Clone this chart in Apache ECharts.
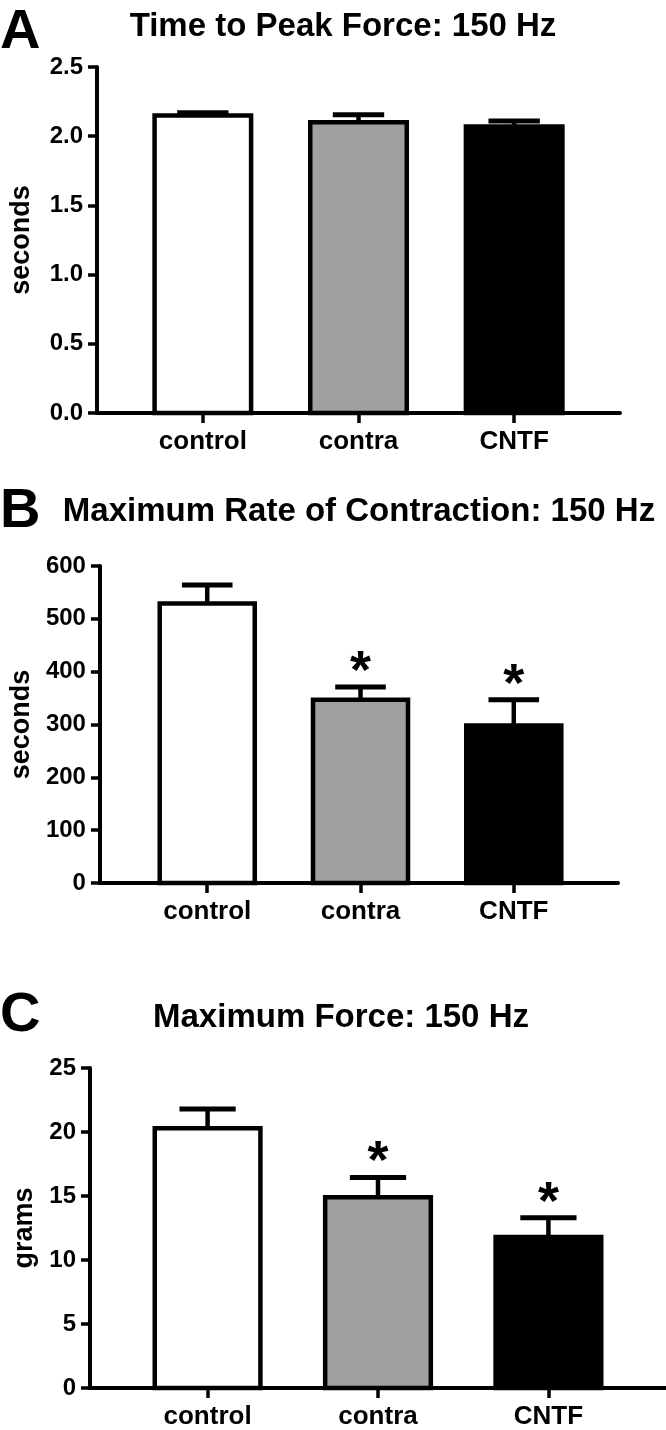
<!DOCTYPE html>
<html>
<head>
<meta charset="utf-8">
<script src="https://cdn.jsdelivr.net/npm/echarts@6/dist/echarts.min.js"></script>
<style>
html,body{margin:0;padding:0;background:#fff;}
#c{width:666px;height:1430px;}
</style>
</head>
<body>
<div id="c"></div>
<script>
// ---- data ----
const categories = ['control', 'contra', 'CNTF'];

const titleA = 'Time to Peak Force: 150 Hz';
const meanA = [2.15, 2.10, 2.07];
const errA = [2.17, 2.155, 2.11];
const sigA = [false, false, false];
const ticksA = { min: 0, max: 2.5, interval: 0.5, decimals: 1 };
const yNameA = 'seconds';

const titleB = 'Maximum Rate of Contraction: 150 Hz';
const meanB = [529, 347, 298];
const errB = [564, 371, 347];
const sigB = [false, true, true];
const ticksB = { min: 0, max: 600, interval: 100, decimals: 0 };
const yNameB = 'seconds';

const titleC = 'Maximum Force: 150 Hz';
const meanC = [20.3, 14.9, 11.8];
const errC = [21.8, 16.45, 13.3];
const sigC = [false, true, true];
const ticksC = { min: 0, max: 25, interval: 5, decimals: 0 };
const yNameC = 'grams';

// ---- styles ----
const FONT = '"Liberation Sans", Arial, Helvetica, sans-serif';
const barFill = ['#ffffff', '#a0a0a0', '#000000'];

const panels = [
  { title: titleA, letter: 'A', mean: meanA, err: errA, sig: sigA, ticks: ticksA, yName: yNameA,
    grid: { left: 97, top: 67, width: 523, height: 346 }, xmin: -0.68, xmax: 2.68,
    titleX: 343, titleY: 27, letterY: 33, nameGap: 62 },
  { title: titleB, letter: 'B', mean: meanB, err: errB, sig: sigB, ticks: ticksB, yName: yNameB,
    grid: { left: 94, top: 566, width: 524, height: 317 }, xmin: -0.70, xmax: 2.68,
    titleX: 359, titleY: 512, letterY: 512, nameGap: 57 },
  { title: titleC, letter: 'C', mean: meanC, err: errC, sig: sigC, ticks: ticksC, yName: yNameC,
    grid: { left: 90, top: 1068, width: 576, height: 322 }, xmin: -0.69, xmax: 2.69,
    titleX: 341, titleY: 1018, letterY: 1016, nameGap: 47 }
];

const grids = [], xAxes = [], yAxes = [], series = [], graphics = [];

panels.forEach((p, i) => {
  grids.push(Object.assign({ containLabel: false }, p.grid));
  xAxes.push({
    type: 'value', gridIndex: i, min: p.xmin, max: p.xmax,
    axisLine: { show: true, onZero: false, lineStyle: { color: '#000', width: 4 } },
    axisTick: { show: true, customValues: [0, 1, 2], length: 10, lineStyle: { color: '#000', width: 3.5 } },
    axisLabel: { show: true, customValues: [0, 1, 2], margin: 16,
      formatter: v => categories[Math.round(v)] || '',
      color: '#000', fontFamily: FONT, fontWeight: 'bold', fontSize: 26 },
    splitLine: { show: false }
  });
  yAxes.push({
    type: 'value', gridIndex: i, min: p.ticks.min, max: p.ticks.max, interval: p.ticks.interval,
    name: p.yName, nameLocation: 'middle', nameGap: p.nameGap,
    nameTextStyle: { color: '#000', fontFamily: FONT, fontWeight: 'bold', fontSize: 27 },
    axisLine: { show: true, onZero: false, lineStyle: { color: '#000', width: 4 } },
    axisTick: { show: true, length: 9, lineStyle: { color: '#000', width: 3.5 } },
    axisLabel: { margin: 14, color: '#000', fontFamily: FONT, fontWeight: 'bold', fontSize: 24,
      formatter: v => v.toFixed(p.ticks.decimals) },
    splitLine: { show: false }
  });
  const data = p.mean.map((m, k) => [k, m, p.err[k], p.sig[k] ? 1 : 0]);
  series.push({
    type: 'custom', xAxisIndex: i, yAxisIndex: i, data: data, clip: false,
    renderItem: (params, api) => {
      const x = api.value(0), v = api.value(1), e = api.value(2), s = api.value(3);
      const base = api.coord([x, 0]);
      const top = api.coord([x, v]);
      const cap = api.coord([x, e]);
      const band = api.size([1, 0])[0];
      const bw = band * 0.62;
      const cw = band * 0.33;
      const idx = params.dataIndex;
      const children = [
        { type: 'line', shape: { x1: top[0], y1: top[1], x2: cap[0], y2: cap[1] },
          style: { stroke: '#000', lineWidth: 4.5 } },
        { type: 'line', shape: { x1: cap[0] - cw / 2, y1: cap[1], x2: cap[0] + cw / 2, y2: cap[1] },
          style: { stroke: '#000', lineWidth: 5 } },
        { type: 'rect', shape: { x: base[0] - bw / 2, y: top[1], width: bw, height: base[1] - top[1] },
          style: { fill: barFill[idx], stroke: '#000', lineWidth: 4.5 } }
      ];
      if (s) {
        children.push({ type: 'text', x: cap[0], y: cap[1] - 14,
          style: { text: '*', fontSize: 54, fontWeight: 'bold', fontFamily: FONT, fill: '#000',
            align: 'center', verticalAlign: 'middle' } });
      }
      return { type: 'group', children: children };
    }
  });
  graphics.push({ type: 'text', left: 0, top: p.letterY - 28,
    style: { text: p.letter, fontSize: 56, fontWeight: 'bold', fontFamily: FONT, fill: '#000' } });
  graphics.push({ type: 'text', x: p.titleX, y: p.titleY,
    style: { text: p.title, fontSize: 33, fontWeight: 'bold', fontFamily: FONT, fill: '#000',
      align: 'center', verticalAlign: 'middle' } });
});

const chart = echarts.init(document.getElementById('c'), null, { renderer: 'canvas' });
chart.setOption({
  backgroundColor: '#fff',
  animation: false,
  grid: grids, xAxis: xAxes, yAxis: yAxes, series: series, graphic: graphics
});
</script>
</body>
</html>
